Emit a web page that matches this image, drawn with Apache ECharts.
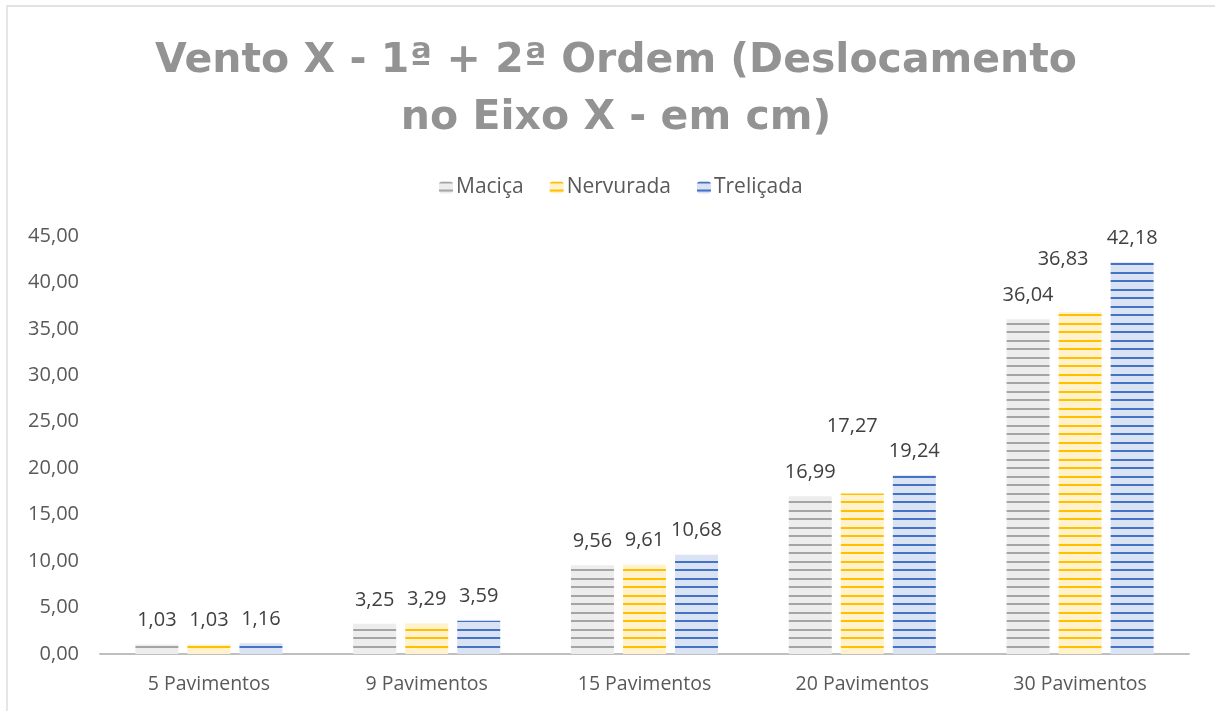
<!DOCTYPE html>
<html>
<head>
<meta charset="utf-8">
<script src="https://cdn.jsdelivr.net/npm/echarts@6/dist/echarts.min.js"></script>
<style>
  html, body { margin: 0; padding: 0; background: #ffffff; }
  #chart { width: 1215px; height: 711px; }
</style>
</head>
<body>
<div id="chart"></div>
<script>
// Data
const categories = ['5 Pavimentos', '9 Pavimentos', '15 Pavimentos', '20 Pavimentos', '30 Pavimentos'];
const seriesNames = ['Maciça', 'Nervurada', 'Treliçada'];
const macica = [1.03, 3.25, 9.56, 16.99, 36.04];
const nervurada = [1.03, 3.29, 9.61, 17.27, 36.83];
const trelicada = [1.16, 3.59, 10.68, 19.24, 42.18];
const yTicks = { min: 0, max: 45, interval: 5 };

// Decimal comma formatting
const fmt = v => Number(v).toFixed(2).replace('.', ',');

// Horizontal-stripe fill pattern
function stripes(bg, fg) {
  const c = document.createElement('canvas');
  c.width = 8; c.height = 17;
  const g = c.getContext('2d');
  g.fillStyle = bg; g.fillRect(0, 0, 8, 17);
  g.fillStyle = fg;
  g.fillRect(0, 0, 8, 2);
  g.fillRect(0, 8, 8, 2);
  return { image: c, repeat: 'repeat' };
}

const palettes = [
  stripes('#ededed', '#a5a5a5'),
  stripes('#fff2cc', '#ffc000'),
  stripes('#dae3f3', '#4472c4')
];

const labelStyle = {
  show: true,
  position: 'top',
  distance: 14,
  fontFamily: 'Open Sans',
  fontSize: 20,
  color: '#404040',
  formatter: p => fmt(p.value)
};

// Individual label shifts for a couple of crowded bars
function withLabels(values, shifts) {
  return values.map((v, i) => {
    const s = shifts[i];
    return s ? { value: v, label: { offset: s } } : v;
  });
}

const chart = echarts.init(document.getElementById('chart'), null, { renderer: 'canvas' });

chart.setOption({
  backgroundColor: '#ffffff',
  animation: false,
  graphic: [{
    type: 'rect',
    silent: true,
    shape: { x: 7, y: 6, width: 1400, height: 900 },
    style: { fill: 'none', stroke: '#d9d9d9', lineWidth: 1.3 }
  }],
  title: {
    text: 'Vento X - 1ª + 2ª Ordem (Deslocamento\nno Eixo X - em cm)',
    left: 611,
    top: 28,
    textAlign: 'center',
    textStyle: {
      fontFamily: 'DejaVu Sans',
      fontWeight: 'bold',
      fontSize: 41,
      lineHeight: 57,
      color: '#939393'
    }
  },
  legend: {
    top: 172,
    left: 434,
    itemWidth: 14,
    itemHeight: 12,
    itemGap: 26,
    textStyle: { fontFamily: 'Open Sans', fontSize: 21, color: '#595959', padding: [0, 0, 0, -2] },
    data: seriesNames
  },
  grid: { left: 100, right: 26, top: 236, bottom: 57 },
  xAxis: {
    type: 'category',
    data: categories,
    axisLine: { lineStyle: { color: '#bfbfbf', width: 2 } },
    axisTick: { show: false },
    axisLabel: { fontFamily: 'Open Sans', fontSize: 19.5, color: '#595959', margin: 20 }
  },
  yAxis: {
    type: 'value',
    min: yTicks.min,
    max: yTicks.max,
    interval: yTicks.interval,
    axisLine: { show: false },
    axisTick: { show: false },
    splitLine: { show: false },
    axisLabel: { fontFamily: 'Open Sans', fontSize: 20, color: '#595959', margin: 21, formatter: v => fmt(v) }
  },
  series: [
    {
      name: seriesNames[0], type: 'bar', barWidth: 43, barGap: '21%',
      itemStyle: { color: palettes[0] },
      label: labelStyle,
      data: macica
    },
    {
      name: seriesNames[1], type: 'bar', barWidth: 43, barGap: '21%',
      itemStyle: { color: palettes[1] },
      label: labelStyle,
      data: withLabels(nervurada, [null, null, null, [-10, -43], [-17, -29]])
    },
    {
      name: seriesNames[2], type: 'bar', barWidth: 43, barGap: '21%',
      itemStyle: { color: palettes[2] },
      label: labelStyle,
      data: trelicada
    }
  ]
});
</script>
</body>
</html>
